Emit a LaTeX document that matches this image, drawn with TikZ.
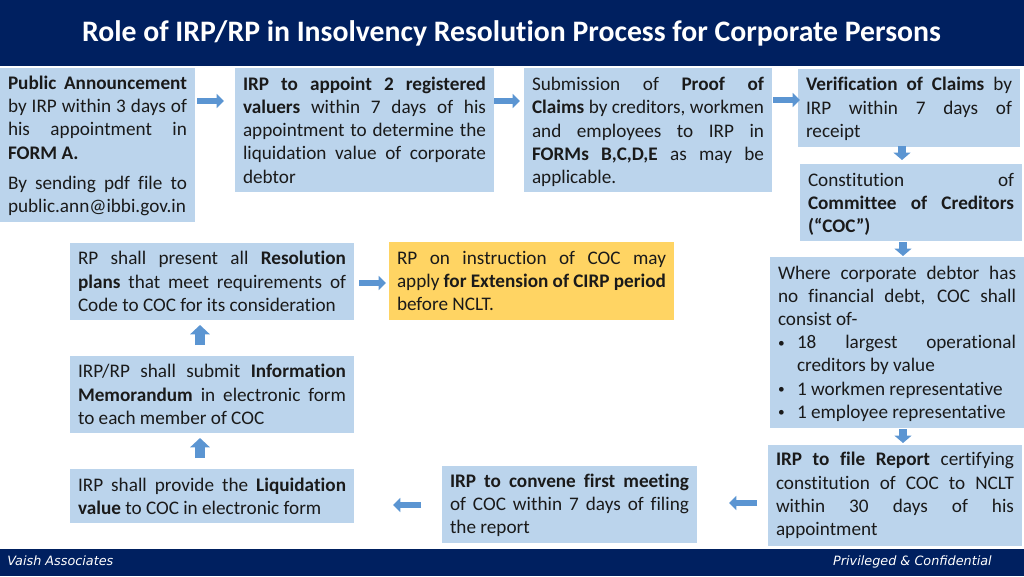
\documentclass[tikz,border=0pt]{standalone}
\usepackage{fontspec}
\setmainfont[Ligatures=NoCommon]{Carlito}
\newfontfamily\footfont{DejaVu Sans}
\usetikzlibrary{arrows.meta}
\definecolor{navy}{HTML}{002060}
\definecolor{boxblue}{HTML}{BBD4EC}
\definecolor{boxgold}{HTML}{FFD463}
\definecolor{arrowblue}{HTML}{5B95D2}
\definecolor{inktext}{HTML}{1A1A1A}
\tikzset{
  band/.style={fill=navy,inner sep=0pt,outer sep=0pt,minimum width=768pt,anchor=north west},
  box/.style 2 args={fill=boxblue,text=inktext,anchor=north west,inner xsep=6pt,inner ysep=0pt,outer sep=0pt,
    minimum width=#1*0.75pt,minimum height=#2*0.75pt,text width=(#1-16)*0.75pt,align=justify,
    font=\fontsize{14.4}{17.4}\selectfont},
  flow/.style={draw=arrowblue,line width=5pt,-{Triangle[length=5.5pt,width=10.5pt]}},
  flowv/.style={draw=arrowblue,line width=6.5pt,-{Triangle[length=5.5pt,width=12.5pt]}},
  flowu/.style={draw=arrowblue,line width=7.5pt,-{Triangle[length=7pt,width=14.5pt]}},
  footlabel/.style={text=white,inner sep=0pt,font=\footfont\itshape\fontsize{9.6}{11}\selectfont},
}
\newcommand{\bl}{\makebox[14.25pt][l]{\raisebox{1pt}{\fontsize{10}{10}\selectfont •}}}
\newcommand{\dn}[1]{\par\vskip#1\relax\nointerlineskip}
\begin{document}
\begin{tikzpicture}[x=0.75pt,y=-0.75pt]
\useasboundingbox (0,0) rectangle (1024,576);
\node[band,minimum height=49.5pt] (hdr) at (0,0) {};
\node[text=white,inner sep=0pt,anchor=base,font=\bfseries\fontsize{22.3}{26}\selectfont] (title) at (511.5,41) {Role of IRP/RP in Insolvency Resolution Process for Corporate Persons};
\node[band,minimum height=20.25pt] (ftr) at (0,549) {};
\node[footlabel,anchor=base west] (fl) at (7,565) {Vaish Associates};
\node[footlabel,anchor=base east] (fr) at (992,565) {Privileged \& Confidential};

\node[box={195}{154}] (a) at (0,68) {\dn{1.5pt}\textbf{Public Announcement}\linebreak by IRP within 3 days of\linebreak his appointment in\linebreak \textbf{FORM A.}\par\vspace{5.5pt}By sending pdf file to\linebreak public.ann@ibbi.gov.in};
\node[box={259}{124}] (b) at (235,68) {\textbf{IRP to appoint 2 registered}\linebreak \textbf{valuers} within 7 days of his\linebreak appointment to determine the\linebreak liquidation value of corporate\linebreak debtor};
\node[box={248}{124}] (c) at (524,68) {\dn{3pt}Submission of \textbf{Proof of}\linebreak \textbf{Claims} by creditors, workmen\linebreak and employees to IRP in\linebreak \textbf{FORMs B,C,D,E} as may be\linebreak applicable.};
\node[box={222}{78}] (d) at (798,69) {\dn{1.5pt}\textbf{Verification of Claims} by\linebreak IRP within 7 days of\linebreak receipt};
\node[box={222}{77}] (e) at (800,164) {\dn{3pt}Constitution of\linebreak \textbf{Committee of Creditors}\linebreak \textbf{(“COC”)}};
\node[box={254}{171}] (f) at (770,257) {\dn{1.5pt}Where corporate debtor has\linebreak no financial debt, COC shall\linebreak consist of-\par
\hangindent=14.25pt\hangafter=1\bl 18 largest operational\linebreak creditors by value\par
\hangindent=14.25pt\hangafter=1\bl 1 workmen representative\par
\hangindent=14.25pt\hangafter=1\bl 1 employee representative};
\node[box={254}{101}] (g) at (768,445) {\textbf{IRP to file Report} certifying\linebreak constitution of COC to NCLT\linebreak within 30 days of his\linebreak appointment};
\node[box={255}{77}] (h) at (442,466) {\dn{1.5pt}\textbf{IRP to convene first meeting}\linebreak of COC within 7 days of filing\linebreak the report};
\node[box={284}{54}] (i) at (70,469) {IRP shall provide the \textbf{Liquidation}\linebreak \textbf{value} to COC in electronic form};
\node[box={284}{77}] (j) at (70,356) {IRP/RP shall submit \textbf{Information}\linebreak \textbf{Memorandum} in electronic form\linebreak to each member of COC};
\node[box={284}{77}] (k) at (70,243) {RP shall present all \textbf{Resolution}\linebreak \textbf{plans} that meet requirements of\linebreak Code to COC for its consideration};
\node[box={285}{78},fill=boxgold] (l) at (389,242) {RP on instruction of COC may\linebreak apply \textbf{for Extension of CIRP period}\linebreak before NCLT.};

\coordinate (r1) at (0,101);
\coordinate (r2) at (0,100);
\coordinate (r3) at (0,503);
\coordinate (r4) at (0,505);
\coordinate (r5) at (0,283);
\coordinate (c1) at (902,0);
\coordinate (c2) at (903,0);
\coordinate (c3) at (200,0);

\draw[flow,shorten <=1.5pt,shorten >=8.25pt] (a.east |- r1) -- (b.west |- r1);
\draw[flow,shorten >=3pt] (b.east |- r1) -- (c.west |- r1);
\draw[flow,shorten <=0.75pt,shorten >=-1.5pt] (c.east |- r2) -- (d.west |- r2);
\draw[flowv,shorten <=-0.75pt,shorten >=3pt] (d.south -| c1) -- (e.north -| c1);
\draw[flowv,shorten <=0.75pt,shorten >=0.75pt] (e.south -| c2) -- (f.north -| c2);
\draw[flowv,shorten <=0.75pt,shorten >=1.5pt] (f.south -| c2) -- (g.north -| c2);
\draw[flow,shorten <=8.25pt,shorten >=24pt] (g.west |- r3) -- (h.east |- r3);
\draw[flow,shorten <=15.75pt,shorten >=29.25pt] (h.west |- r4) -- (i.east |- r4);
\draw[flowu,shorten <=8.25pt,shorten >=3.75pt] (i.north -| c3) -- (j.south -| c3);
\draw[flowu,shorten <=8.25pt,shorten >=3.75pt] (j.north -| c3) -- (k.south -| c3);
\draw[flow,shorten <=3.75pt,shorten >=2.25pt] (k.east |- r5) -- (l.west |- r5);
\end{tikzpicture}
\end{document}
